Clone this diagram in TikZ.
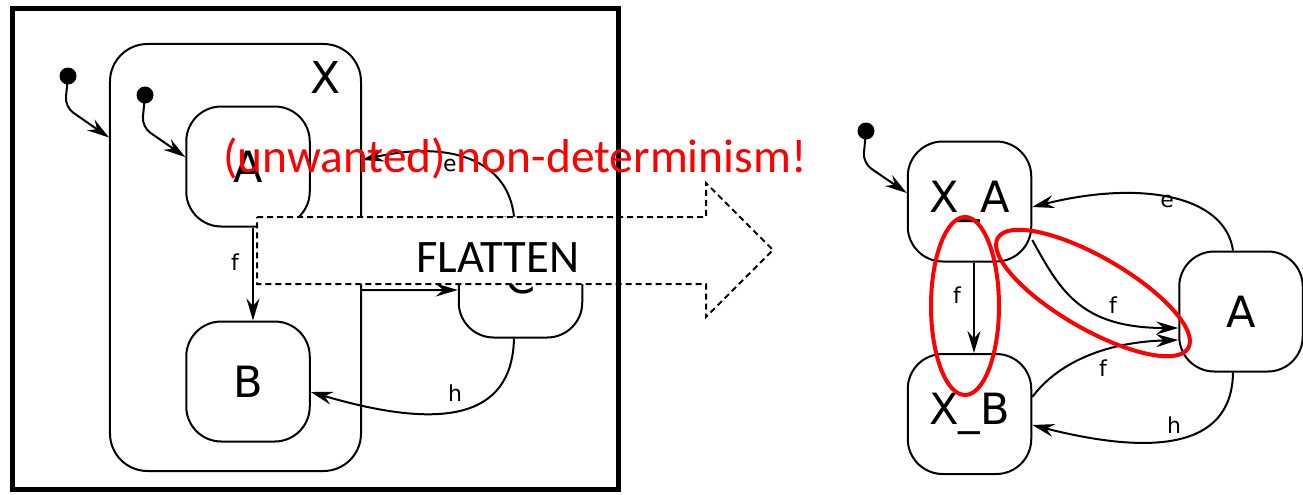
\documentclass[tikz,border=0pt]{standalone}
\usepackage{fontspec}
\setmainfont{DejaVu Sans}
\newfontfamily\calfont{Carlito}
\usetikzlibrary{arrows.meta}
\tikzset{
  stnode/.style={draw, line width=0.4mm, rounded corners=7mm, minimum width=24.7mm,
    minimum height=24mm, inner sep=0pt, font=\fontsize{24.5}{27}\selectfont},
  stlab/.style={font=\fontsize{25}{28}\selectfont, inner sep=0pt},
  inidot/.style={circle, fill=black, inner sep=0pt, minimum size=3.4mm},
  trans/.style={-{Stealth[length=4.4mm, width=2.6mm, inset=1.5mm]}, line width=0.4mm},
  tlab/.style={font=\fontsize{12.5}{14}\selectfont, inner sep=0pt},
  flatarrow/.style={draw, fill=white, line width=0.4mm, dash pattern=on 1.2mm off 0.8mm},
  redmark/.style={draw=red, line width=0.8mm},
}

\begin{document}
\begin{tikzpicture}[x=0.2mm, y=-0.2mm]
  \useasboundingbox (0,0) rectangle (1303,494);

  % hierarchical chart
  \node[stnode, rounded corners=7.5mm, minimum width=50.2mm, minimum height=85.4mm] (x) at (235.5,257.5) {};
  \node[stlab] (xl) at (326,77) {X};
  \node[inidot] (d1) at (68,76) {};
  \node[inidot] (d2) at (145,95) {};
  \node[stnode] (a) at (248,166.5) {A};
  \node[stnode] (b) at (248,381.5) {B};
  \node[stnode] (c) at (520.5,277.5) {C};
  \draw[trans, rounded corners=2mm] (d1.center) -- ++(-3,31) -- ([yshift=24mm]x.west);
  \draw[trans, rounded corners=2mm] (d2.center) -- ++(-3,32) -- ([yshift=1.9mm]a.west);
  \draw[trans] ([xshift=1mm]a.south) -- ([xshift=1mm]b.north);
  \draw[trans] ([xshift=-1.3mm]c.north) .. controls (508,160) and (450,140) .. ([yshift=19.5mm]x.east);
  \draw[trans] ([yshift=-6.5mm]x.east) -- ([yshift=-2.5mm]c.west);
  \draw[trans] ([xshift=-1.3mm]c.south) .. controls (512,420) and (440,430) .. ([yshift=-2.1mm]b.east);
  \node[tlab] (lf) at (235,262) {f};
  \node[tlab] (le) at (450,166) {e};
  \node[tlab] (lh) at (455,393) {h};

  % flatten arrow
  \draw[flatarrow] (257,217) -- (706,217) -- (706,183) -- (773,250) -- (706,317)
    -- (706,284) -- (257,284) -- cycle;
  \node[font=\calfont\fontsize{26.5}{30}\selectfont] (fl) at (498,258) {FLATTEN};

  \draw[line width=1mm] (12.5,8.5) rectangle (618.5,489.5);

  % flat chart
  \node[inidot] (d3) at (866,131) {};
  \node[stnode] (xa) at (969.5,201.5) {X\_A};
  \node[stnode] (xb) at (969.5,414) {X\_B};
  \node[stnode] (ra) at (1241,311.5) {A};
  \draw[trans, rounded corners=2mm] (d3.center) -- ++(-3,32) -- ([yshift=1.7mm]xa.west);
  \draw[trans] ([xshift=0.9mm]xa.south) -- ([xshift=0.9mm]xb.north);
  \draw[trans] ([xshift=-1.6mm]ra.north) .. controls (1225,195) and (1140,180) .. ([yshift=-1.1mm]xa.east);
  \draw[trans] ([yshift=-7.7mm]xa.east) .. controls (1060,290) and (1080,328) .. ([yshift=-3.3mm]ra.west);
  \draw[trans] ([yshift=3.4mm]xb.east) .. controls (1060,360) and (1110,342) .. ([yshift=-5.7mm]ra.west);
  \draw[trans] ([xshift=-1.6mm]ra.south) .. controls (1232,450) and (1150,455) .. ([yshift=-2.2mm]xb.east);
  \node[tlab] (rf1) at (957,295) {f};
  \node[tlab] (re) at (1167,202) {e};
  \node[tlab] (rf2) at (1113,305) {f};
  \node[tlab] (rf3) at (1103,368) {f};
  \node[tlab] (rh) at (1174,425) {h};

  \draw[redmark] (965,306) ellipse [x radius=34, y radius=89];
  \draw[redmark, rotate around={-30:(1093,293)}] (1093,293) ellipse [x radius=110, y radius=36];

  \node[anchor=base, text=red, inner sep=0pt, font=\calfont\fontsize{27}{31}\selectfont] (nd) at (515,172)
    {(unwanted) non-determinism!};
\end{tikzpicture}
\end{document}
